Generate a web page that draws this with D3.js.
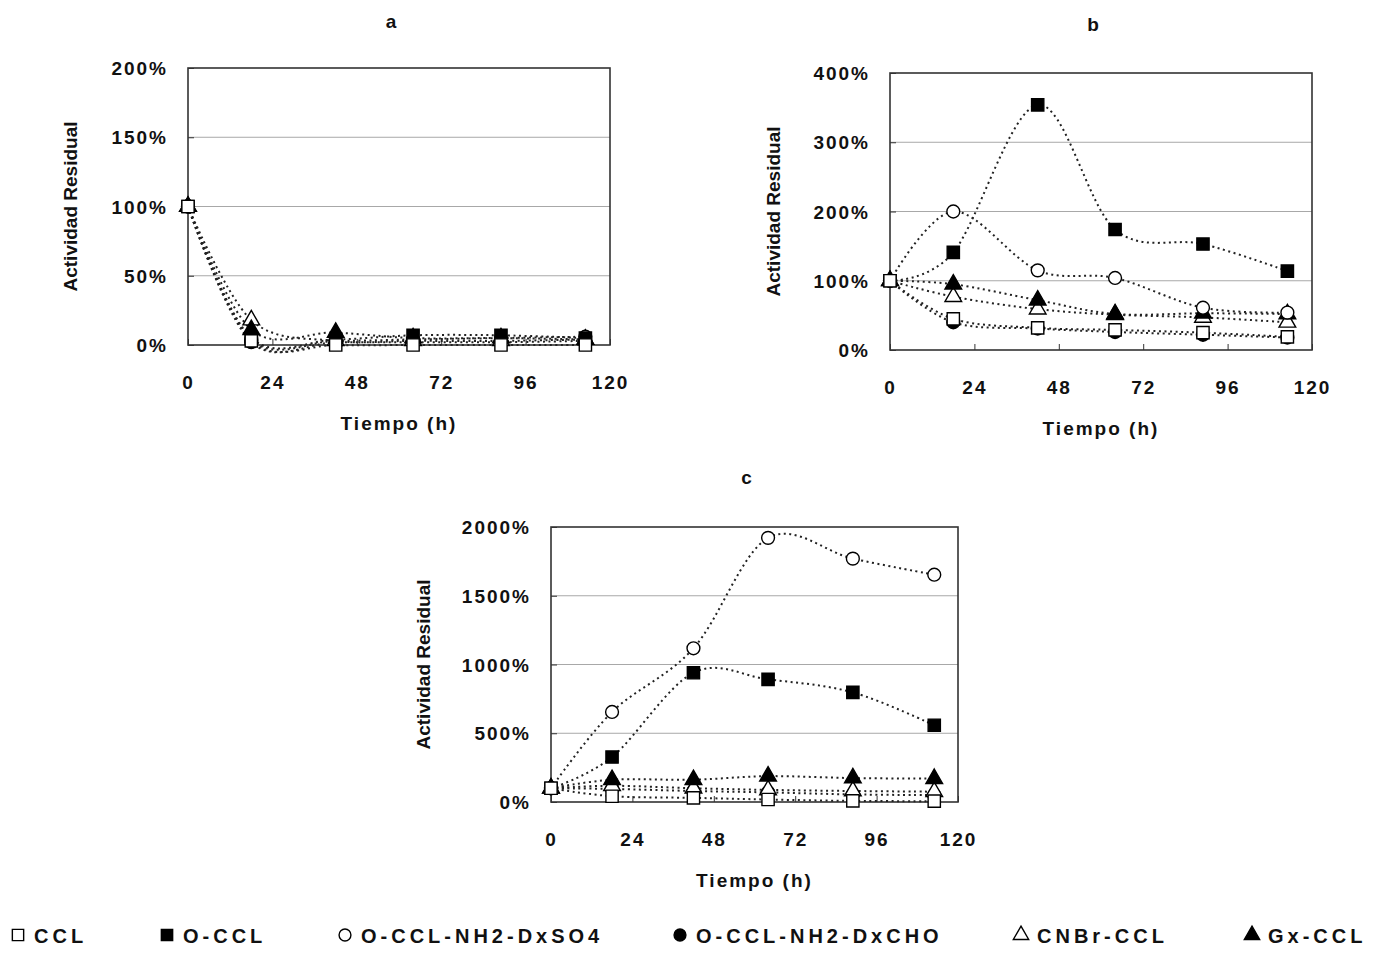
<!DOCTYPE html>
<html>
<head>
<meta charset="utf-8">
<script src="https://cdn.jsdelivr.net/npm/d3@7"></script>
<style>
  body { margin: 0; background: #fff; }
  svg text { font-family: "Liberation Sans", Arial, sans-serif; font-weight: bold; fill: #111; }
</style>
</head>
<body>
<div id="chart"></div>
<script>
// tiempo de muestreo (h)
const hours = [0, 18, 42, 64, 89, 113];
const xTicks = [0, 24, 48, 72, 96, 120];

const seriesNames = ['CCL', 'O-CCL', 'O-CCL-NH2-DxSO4', 'O-CCL-NH2-DxCHO', 'CNBr-CCL', 'Gx-CCL'];

// panel a  (actividad residual, %)
const aCCL    = [100, 3, 0, 0, 0, 0];
const aOCCL   = [100, 5, 4, 7, 7, 5];
const aDxSO4  = [100, 4, 3, 4, 5, 6];
const aDxCHO  = [100, 2, 2, 2, 2, 3];
const aCNBr   = [100, 18, 3, 3, 3, 4];
const aGx     = [100, 11, 9, 5, 5, 4];
const aTicks  = [0, 50, 100, 150, 200];

// panel b
const bCCL    = [100, 45, 32, 29, 25, 19];
const bOCCL   = [100, 141, 354, 174, 153, 114];
const bDxSO4  = [100, 200, 115, 104, 61, 54];
const bDxCHO  = [100, 40, 31, 26, 22, 18];
const bCNBr   = [100, 77, 59, 51, 47, 40];
const bGx     = [100, 95, 72, 52, 53, 52];
const bTicks  = [0, 100, 200, 300, 400];

// panel c
const cCCL    = [100, 42, 30, 18, 8, 6];
const cOCCL   = [100, 327, 940, 892, 797, 558];
const cDxSO4  = [100, 655, 1118, 1921, 1770, 1653];
const cDxCHO  = [100, 95, 80, 70, 55, 50];
const cCNBr   = [100, 118, 100, 88, 80, 75];
const cGx     = [100, 162, 162, 188, 174, 170];
const cTicks  = [0, 500, 1000, 1500, 2000];

const svg = d3.select('#chart').append('svg')
    .attr('width', 1384)
    .attr('height', 956);

const types = [d3.symbolSquare, d3.symbolSquare, d3.symbolCircle, d3.symbolCircle, d3.symbolTriangle, d3.symbolTriangle];
const filled = [false, true, false, true, false, true];

// marcador por serie
function drawMarker(g, i, x, y, scale) {
    const sizes = [150, 150, 130, 130, 120, 120];
    g.append('path')
        .attr('d', d3.symbol().type(types[i]).size(sizes[i] * scale)())
        .attr('transform', `translate(${x},${y})`)
        .attr('fill', filled[i] ? '#000' : '#fff')
        .attr('stroke', '#000')
        .attr('stroke-width', 1.4);
}

function drawPanel(p) {
    const xScale = d3.scaleLinear().domain([0, 120]).range([p.left, p.right]);
    const yScale = d3.scaleLinear().domain([0, p.ticks[p.ticks.length - 1]]).range([p.bottom, p.top]);

    const g = svg.append('g');

    // grid
    g.selectAll('.grid').data(p.ticks.slice(1, -1)).enter().append('line')
        .attr('x1', p.left).attr('x2', p.right)
        .attr('y1', d => yScale(d)).attr('y2', d => yScale(d))
        .attr('stroke', '#a8a8a8').attr('stroke-width', 1);

    // ejes
    const yAxis = d3.axisLeft(yScale).tickValues(p.ticks).tickSize(-6).tickPadding(20)
        .tickFormat(d => d + '%');
    const yg = g.append('g').attr('transform', `translate(${p.left},0)`).call(yAxis);
    yg.select('.domain').remove();
    yg.selectAll('line').attr('stroke', '#333');
    yg.selectAll('text').style('font-size', '19px').style('letter-spacing', '2px').attr('dy', '0.35em');

    const xAxis = d3.axisBottom(xScale).tickValues(xTicks).tickSize(-6).tickPadding(31);
    const xg = g.append('g').attr('transform', `translate(0,${p.bottom})`).call(xAxis);
    xg.select('.domain').remove();
    xg.selectAll('line').attr('stroke', '#333');
    xg.selectAll('text').style('font-size', '19px').style('letter-spacing', '2px');

    g.append('rect')
        .attr('x', p.left).attr('y', p.top)
        .attr('width', p.right - p.left).attr('height', p.bottom - p.top)
        .attr('fill', 'none').attr('stroke', '#333').attr('stroke-width', 1.6);

    // lineas suavizadas punteadas
    const line = d3.line()
        .curve(d3.curveCardinal)
        .x((d, i) => xScale(hours[i]))
        .y(d => yScale(d));

    p.series.forEach(s => {
        g.append('path')
            .attr('d', line(s))
            .attr('fill', 'none')
            .attr('stroke', '#222')
            .attr('stroke-width', 2)
            .attr('stroke-dasharray', '2,3.5');
    });

    [3, 4, 5, 2, 1, 0].forEach(i => {
        p.series[i].forEach((v, j) => drawMarker(g, i, xScale(hours[j]), yScale(v), 1));
    });

    // textos
    g.append('text')
        .attr('x', (p.left + p.right) / 2 - 8).attr('y', p.titleY)
        .attr('text-anchor', 'middle')
        .style('font-size', '19px')
        .text(p.name);

    g.append('text')
        .attr('x', (p.left + p.right) / 2).attr('y', p.bottom + 85)
        .attr('text-anchor', 'middle')
        .style('font-size', '19px').style('letter-spacing', '2px')
        .text('Tiempo (h)');

    g.append('text')
        .attr('transform', `translate(${p.left - p.yLabOff},${(p.top + p.bottom) / 2}) rotate(-90)`)
        .attr('text-anchor', 'middle')
        .attr('dy', '0.35em')
        .style('font-size', '19px')
        .text('Actividad Residual');
}

drawPanel({ name: 'a', left: 188, right: 610, top: 68, bottom: 345, titleY: 28, yLabOff: 118,
    ticks: aTicks, series: [aCCL, aOCCL, aDxSO4, aDxCHO, aCNBr, aGx] });
drawPanel({ name: 'b', left: 890, right: 1312, top: 73, bottom: 350, titleY: 31, yLabOff: 117,
    ticks: bTicks, series: [bCCL, bOCCL, bDxSO4, bDxCHO, bCNBr, bGx] });
drawPanel({ name: 'c', left: 551, right: 958, top: 527, bottom: 802, titleY: 484, yLabOff: 128,
    ticks: cTicks, series: [cCCL, cOCCL, cDxSO4, cDxCHO, cCNBr, cGx] });

// leyenda
const legendX = [18, 167, 345, 680, 1021, 1252];
const legend = svg.append('g');
seriesNames.forEach((name, i) => {
    const lg = legend.append('g');
    drawMarker(lg, i, legendX[i], 935, 0.85);
    lg.append('text')
        .attr('x', legendX[i] + 16).attr('y', 936)
        .attr('dy', '0.35em')
        .style('font-size', '20px').style('letter-spacing', '4px')
        .text(name);
});
</script>
</body>
</html>
